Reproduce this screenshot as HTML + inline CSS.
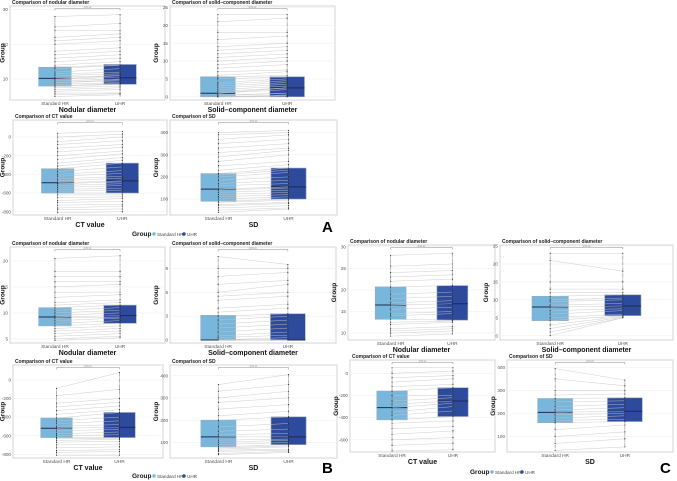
<!DOCTYPE html>
<html><head><meta charset="utf-8"><style>
html,body{margin:0;padding:0;background:#fff;width:677px;height:481px;overflow:hidden}
svg{display:block;font-family:"Liberation Sans",sans-serif}
</style></head><body>
<svg id="fig" width="677" height="481" viewBox="0 0 677 481" xmlns="http://www.w3.org/2000/svg"></svg>
<script>
// ---- data: [min, q1, median, q3, max] ----
const a1Std=[5,8,10.2,13.4,28], a1Uhr=[5,8.5,10.4,14.2,28.5];
const a1PairStd=[5,5.5,6,6.5,7,7.5,8,8,8.5,9,9,9.5,10,10,10.5,11,11.5,12,13,13.5,14,15,16,17,18,20,21,22,24,25,28];
const a1PairUhr=[5.5,5.8,6,7,7.5,8,8.5,8.8,9,9.5,9.8,10,10.5,11,11,11.5,12,13,14,14,15,16,17,18,19,21,22,23,24,26,28.5];
const a1Ticks=[10,20,30];
const a2Std=[0,0,1,5.6,23], a2Uhr=[0,0,2.5,5.6,23];
const a2PairStd=[0,0,0,0,0.3,0.5,1,1,1.5,2,2.5,3,3.5,4,5,5.5,6,7,8,9,10,11,12,13,14,16,18,21,23];
const a2PairUhr=[0,0,0.3,0.5,1,1,2,2.5,2.5,3,3.5,4,4.5,5,5.5,6,7,7.5,9,10,11,12,13,14,15,17,18,22,23];
const a2Ticks=[0,5,10,15,20,25];
const a3Std=[-810,-600,-490,-340,40], a3Uhr=[-810,-600,-470,-280,60];
const a3PairStd=[-810,-780,-760,-730,-700,-680,-650,-620,-600,-580,-560,-540,-520,-500,-490,-470,-450,-420,-400,-370,-340,-310,-280,-240,-200,-160,-120,-80,-50,0,40];
const a3PairUhr=[-800,-770,-740,-720,-690,-660,-640,-620,-600,-570,-550,-520,-500,-480,-470,-440,-420,-390,-360,-320,-280,-250,-220,-180,-150,-110,-80,-40,0,30,60];
const a3Ticks=[-800,-600,-400,-200,0];
const a4Std=[40,50,60,70,75,85,90,100,110,120,130,140,145,160,170,185,200,210,215,230,250,270,290,310,330,350,370,390,400];
const a4Uhr=[55,100,155,240,410];
const a4PairStd=a4Std.slice();
const a4PairUhr=[55,60,70,80,85,95,100,110,120,130,140,150,155,170,185,200,220,230,240,255,270,300,320,330,350,370,390,400,410];
const a4Ticks=[100,200,300,400];
const a4StdBox=[40,90,145,215,400];
const b1Std=[4.7,7.5,9.2,11,20.5], b1Uhr=[5.2,8,9.5,11.5,21];
const b1PairStd=[4.7,5,5.5,6,6.5,7,7.5,8,8.5,9,9.2,9.5,10,10.5,11,11.5,12,13,14,15,16,17,18,20.5];
const b1PairUhr=[5.2,5.5,6,6.5,7,7.5,8,8.5,9,9.2,9.5,10,10.5,11,11.5,12,12.5,13.5,14,15.5,16,17,18,21];
const b1Ticks=[5,10,15,20];
const b2Std=[0,0,0,3.1,10.5], b2Uhr=[0,0,0,3.3,9.5];
const b2PairStd=[0,0,0,0,0,0.3,0.5,1,1.5,2,2.5,3,3.5,4,5,5.5,6,7,8,9,10.5];
const b2PairUhr=[0,0,0,0,0.3,0.6,1,1.5,2,2.5,3,3.3,4,4.5,5.5,6,7,7.5,8.5,9,9.5];
const b2Ticks=[0,3,6,9];
const b3Std=[-810,-620,-520,-410,-90], b3Uhr=[-810,-620,-510,-350,80];
const b3PairStd=[-810,-780,-760,-730,-700,-670,-650,-630,-620,-600,-580,-550,-520,-500,-470,-440,-410,-370,-330,-290,-250,-170,-90];
const b3PairUhr=[-810,-770,-750,-720,-690,-660,-640,-630,-620,-590,-560,-530,-510,-480,-440,-400,-350,-320,-280,-240,-200,-100,80];
const b3Ticks=[-800,-600,-400,-200,0];
const b4Std=[45,80,125,200,360], b4Uhr=[55,90,125,215,405];
const b4PairStd=[45,50,60,65,70,75,80,90,100,110,125,135,150,170,200,220,250,280,300,330,360];
const b4PairUhr=[55,60,65,70,80,85,90,100,110,115,125,140,160,185,215,240,270,300,330,360,405];
const b4Ticks=[100,200,300,400];
const c1Std=[9.3,13.2,16.5,20.7,28], c1Uhr=[9.8,13,16.8,21,28.5];
const c1PairStd=[9.3,10,10.5,11,12,12.5,13.2,14,14.5,15.5,16.5,17,18,19,20.7,22,23,24,25.5,28];
const c1PairUhr=[9.8,10.5,11,11.5,12.5,12.8,13,14.5,15,16,16.8,17.5,18.5,19.5,21,22.5,23.5,24.5,26,28.5];
const c1Ticks=[10,15,20,25,30];
const c2Std=[0,4.2,8,11,23], c2Uhr=[5,5.6,8.3,11.4,23];
const c2PairStd=[0,1,2,3,4.2,5,6,7,8,8.5,9.5,10,11,12,13,15,21,23];
const c2PairUhr=[5,5,5.2,5.4,5.6,6,7,7.5,8.3,9,10,10.5,11.4,12,13,15,18,23];
const c2Ticks=[0,5,10,15,20,25];
const c3Std=[-700,-420,-310,-160,50], c3Uhr=[-690,-390,-250,-130,50];
const c3PairStd=[-700,-650,-600,-550,-500,-450,-420,-380,-350,-310,-280,-250,-200,-160,-120,-80,-40,0,50];
const c3PairUhr=[-690,-630,-580,-520,-480,-430,-390,-340,-300,-270,-250,-220,-200,-130,-100,-50,-20,20,50];
const c3Ticks=[-600,-400,-200,0];
const c4Std=[40,160,205,265,395], c4Uhr=[55,165,210,268,345];
const c4PairStd=[40,70,100,130,160,170,180,195,205,215,230,250,265,280,300,350,395];
const c4PairUhr=[55,90,120,150,165,175,190,200,210,225,240,255,268,285,300,320,345];
const c4Ticks=[100,200,300,400];
const categories=["Standard HR","UHR"];

// ---- layout ----
const T1="Comparison of nodular diameter",T2="Comparison of solid\u2013component diameter",T3="Comparison of CT value",T4="Comparison of SD";
const X1="Nodular diameter",X2="Solid\u2013component diameter",X3="CT value",X4="SD";
const panels=[
 {id:"a1",x0:10,x1:165,y0:6,y1:100,dom:[4,31],s:a1Std,u:a1Uhr,ps:a1PairStd,pu:a1PairUhr,t:a1Ticks,title:T1,xt:X1,p:"p=0.xx"},
 {id:"a2",x0:170,x1:335,y0:6,y1:100,dom:[-0.9,25.4],s:a2Std,u:a2Uhr,ps:a2PairStd,pu:a2PairUhr,t:a2Ticks,title:T2,xt:X2,p:"p=0.xx"},
 {id:"a3",x0:13,x1:167,y0:120,y1:215,dom:[-835,182],s:a3Std,u:a3Uhr,ps:a3PairStd,pu:a3PairUhr,t:a3Ticks,title:T3,xt:X3,p:"p=0.xx"},
 {id:"a4",x0:170,x1:337,y0:120,y1:215,dom:[28,457],s:a4StdBox,u:a4Uhr,ps:a4PairStd,pu:a4PairUhr,t:a4Ticks,title:T4,xt:X4,p:"p=0.xx"},
 {id:"b1",x0:10,x1:165,y0:247,y1:343,dom:[4.2,22.7],s:b1Std,u:b1Uhr,ps:b1PairStd,pu:b1PairUhr,t:b1Ticks,title:T1,xt:X1,p:"p=0.xx"},
 {id:"b2",x0:170,x1:336,y0:247,y1:343,dom:[-0.38,11.7],s:b2Std,u:b2Uhr,ps:b2PairStd,pu:b2PairUhr,t:b2Ticks,title:T2,xt:X2,p:"p=0.xx"},
 {id:"b3",x0:13,x1:163,y0:365,y1:458,dom:[-840,161],s:b3Std,u:b3Uhr,ps:b3PairStd,pu:b3PairUhr,t:b3Ticks,title:T3,xt:X3,p:"p=0.xx"},
 {id:"b4",x0:170,x1:337,y0:365,y1:458,dom:[30,448],s:b4Std,u:b4Uhr,ps:b4PairStd,pu:b4PairUhr,t:b4Ticks,title:T4,xt:X4,p:"p=0.xx"},
 {id:"c1",x0:348,x1:495,y0:245,y1:340,dom:[8.4,30.4],s:c1Std,u:c1Uhr,ps:c1PairStd,pu:c1PairUhr,t:c1Ticks,title:T1,xt:X1,p:"p=0.xx"},
 {id:"c2",x0:500,x1:673,y0:245,y1:340,dom:[-1.2,25.3],s:c2Std,u:c2Uhr,ps:c2PairStd,pu:c2PairUhr,t:c2Ticks,title:T2,xt:X2,p:"p=0.xx"},
 {id:"c3",x0:350,x1:495,y0:360,y1:452,dom:[-710,120],s:c3Std,u:c3Uhr,ps:c3PairStd,pu:c3PairUhr,t:c3Ticks,title:T3,xt:X3,p:"p=0.xx"},
 {id:"c4",x0:507,x1:673,y0:360,y1:452,dom:[33,432],s:c4Std,u:c4Uhr,ps:c4PairStd,pu:c4PairUhr,t:c4Ticks,title:T4,xt:X4,p:"p=0.xx"}
];
const NS="http://www.w3.org/2000/svg";
const svg=document.getElementById("fig");
function mk(tag,attrs,parent,txt){const e=document.createElementNS(NS,tag);for(const k in attrs)e.setAttribute(k,attrs[k]);if(txt!==undefined)e.textContent=txt;(parent||svg).appendChild(e);return e;}

panels.forEach(P=>{
  const g=mk("g",{});
  
  
  const W=P.x1-P.x0;
  const y=v=>P.y1-(v-P.dom[0])/(P.dom[1]-P.dom[0])*(P.y1-P.y0);
  const cx=[P.x0+0.29*W,P.x0+0.71*W];
  const bw=0.21*W;
  mk("rect",{x:P.x0,y:P.y0,width:W,height:P.y1-P.y0,fill:"#fff",stroke:"#d6d6d6","stroke-width":1},g);
  P.t.forEach(v=>{
    const yy=y(v);
    mk("line",{x1:P.x0,x2:P.x1,y1:yy,y2:yy,stroke:"#f0f0f0","stroke-width":0.6},g);
    const tl=mk("text",{x:P.x0-2,y:yy+1.6,"font-size":4.6,fill:"#555","text-anchor":"end"},g,String(v));
    
    
  });
  [P.s,P.u].forEach((d,i)=>{
    const col=i===0?"#79b6dc":"#2d4a9c";
    const bx=mk("rect",{x:cx[i]-bw/2,y:y(d[3]),width:bw,height:y(d[1])-y(d[3]),fill:col,stroke:"#9ab",
      "stroke-width":0.6},g);
    
    
    mk("line",{x1:cx[i]-bw/2,x2:cx[i]+bw/2,y1:y(d[2]),y2:y(d[2]),stroke:"#1d2d4a","stroke-width":1},g);
    mk("line",{x1:cx[i],x2:cx[i],y1:y(d[0]),y2:y(d[4]),stroke:"#333","stroke-width":0.6,"stroke-dasharray":"0.6 0.6"},g);
    const xl=mk("text",{x:cx[i],y:P.y1+5,"font-size":4.8,fill:"#555","text-anchor":"middle"},g,categories[i]);
    
    
  });
  for(let k=0;k<P.ps.length;k++){
    const ln=mk("line",{x1:cx[0],x2:cx[1],y1:y(P.ps[k]),y2:y(P.pu[k]),stroke:"#c6c6c6","stroke-width":0.5,opacity:0.85},g);
    
    
    mk("circle",{cx:cx[0],cy:y(P.ps[k]),r:0.55,fill:"#222"},g);
    mk("circle",{cx:cx[1],cy:y(P.pu[k]),r:0.55,fill:"#222"},g);
  }
  const by=P.y0+2.5;
  mk("path",{d:`M${cx[0]},${by+2}V${by}H${cx[1]}V${by+2}`,fill:"none",stroke:"#888","stroke-width":0.5},g);
  mk("text",{x:(cx[0]+cx[1])/2,y:by-0.6,"font-size":2.5,fill:"#888","text-anchor":"middle"},g,P.p);
  const tt=mk("text",{x:P.x0+2,y:P.y0-2,"font-size":5,"font-weight":"bold",fill:"#222"},g,P.title);
  
  
  const xt=mk("text",{x:(P.x0+P.x1)/2,y:P.y1+12,"font-size":7,"font-weight":"bold",fill:"#111","text-anchor":"middle"},g,P.xt);
  
  
  const yc=(P.y0+P.y1)/2;
  const yx=Math.max(P.x0-12,4.5);
  const ya=mk("text",{x:yx,y:yc,"font-size":6.5,"font-weight":"bold",fill:"#111","text-anchor":"middle",transform:`rotate(-90 ${yx} ${yc})`},g,"Group");
  
  
});

const legends=[[132,236],[132,478],[470,474]];
legends.forEach((L,i)=>{
  const g=mk("g",{});
  
  
  mk("text",{x:L[0],y:L[1],"font-size":6.5,"font-weight":"bold",fill:"#111"},g,"Group");
  mk("circle",{cx:L[0]+22,cy:L[1]-2,r:1.7,fill:"#79b6dc"},g);
  mk("text",{x:L[0]+25,y:L[1],"font-size":4.6,fill:"#444"},g,"Standard HR");
  mk("circle",{cx:L[0]+52,cy:L[1]-2,r:1.7,fill:"#2d4a9c"},g);
  mk("text",{x:L[0]+55,y:L[1],"font-size":4.6,fill:"#444"},g,"UHR");
});
[["A",322,232],["B",322,473],["C",660,473]].forEach(a=>{
  const t=mk("text",{x:a[1],y:a[2],"font-size":15,"font-weight":"bold",fill:"#000"},svg,a[0]);
  
  
});
</script>
</body></html>
